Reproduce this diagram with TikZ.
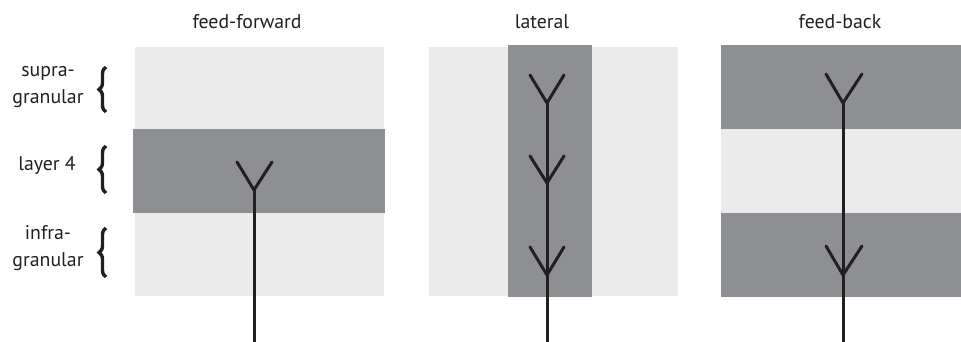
\documentclass[tikz,border=0pt]{standalone}
\usepackage{fontspec}
\setmainfont{PT Sans}
\usetikzlibrary{decorations.pathreplacing}
\definecolor{lightband}{HTML}{EBEBEB}
\definecolor{darkband}{HTML}{8E8F92}
\definecolor{ink}{HTML}{231F20}
\tikzset{
  lbl/.style={inner sep=0pt, font=\fontsize{19.8}{27}\selectfont, text=ink, align=center},
  light/.style={fill=lightband, draw=none},
  dark/.style={fill=darkband, draw=none},
  axon/.style={draw=ink, line width=3pt, line cap=butt},
  syn/.style={draw=ink, line width=3pt, line cap=round, line join=miter},
  brc/.style={draw=ink, line width=3.4pt, decorate, decoration={brace, amplitude=7pt}}
}
\begin{document}
\begin{tikzpicture}[x=1pt, y=-1pt]
\useasboundingbox (0,0) rectangle (961,342);
% titles
\node[lbl] (t1) at (247,22) {feed-forward};
\node[lbl] (t2) at (542,22) {lateral};
\node[lbl] (t3) at (840,22) {feed-back};
% left labels
\node[lbl, text width=90pt] (l1) at (48,87) {supra-\\granular};
\node[lbl] (l2) at (47,165) {layer 4};
\node[lbl, text width=90pt] (l3) at (48,248) {infra-\\granular};
\coordinate (b1a) at (106,112); \coordinate (b1b) at (106,67);
\coordinate (b2a) at (106,193); \coordinate (b2b) at (106,146);
\coordinate (b3a) at (106,277); \coordinate (b3b) at (106,228);
\draw[brc] (b1a) -- (b1b);
\draw[brc] (b2a) -- (b2b);
\draw[brc] (b3a) -- (b3b);
% panel 1: feed-forward
\fill[light] (135,47) rectangle (384,296);
\fill[dark] (133,129) rectangle (385,213);
\coordinate (p1v) at (254,190);
\coordinate (p1l) at (237,162);
\coordinate (p1r) at (272,162);
\coordinate (p1e) at (254,342);
\draw[axon] (p1v) -- (p1e);
\draw[syn] (p1l) -- (p1v) -- (p1r);
% panel 2: lateral
\fill[light] (429,47) rectangle (678,296);
\fill[dark] (508,45) rectangle (592,297);
\coordinate (p2v1) at (547,103);
\coordinate (p2v2) at (547,183);
\coordinate (p2v3) at (547,275);
\coordinate (p2e) at (547,342);
\draw[axon] (p2v1) -- (p2e);
\draw[syn] (530,75) -- (p2v1) -- (564,75);
\draw[syn] (530,156) -- (p2v2) -- (564,156);
\draw[syn] (530,247) -- (p2v3) -- (564,247);
% panel 3: feed-back
\fill[light] (721,47) rectangle (961,296);
\fill[dark] (721,45) rectangle (961,129);
\fill[dark] (721,213) rectangle (961,297);
\coordinate (p3v1) at (843,103);
\coordinate (p3v2) at (843,275);
\coordinate (p3e) at (843,342);
\draw[axon] (p3v1) -- (p3e);
\draw[syn] (826,74) -- (p3v1) -- (862,74);
\draw[syn] (826,246) -- (p3v2) -- (862,246);
\end{tikzpicture}
\end{document}
